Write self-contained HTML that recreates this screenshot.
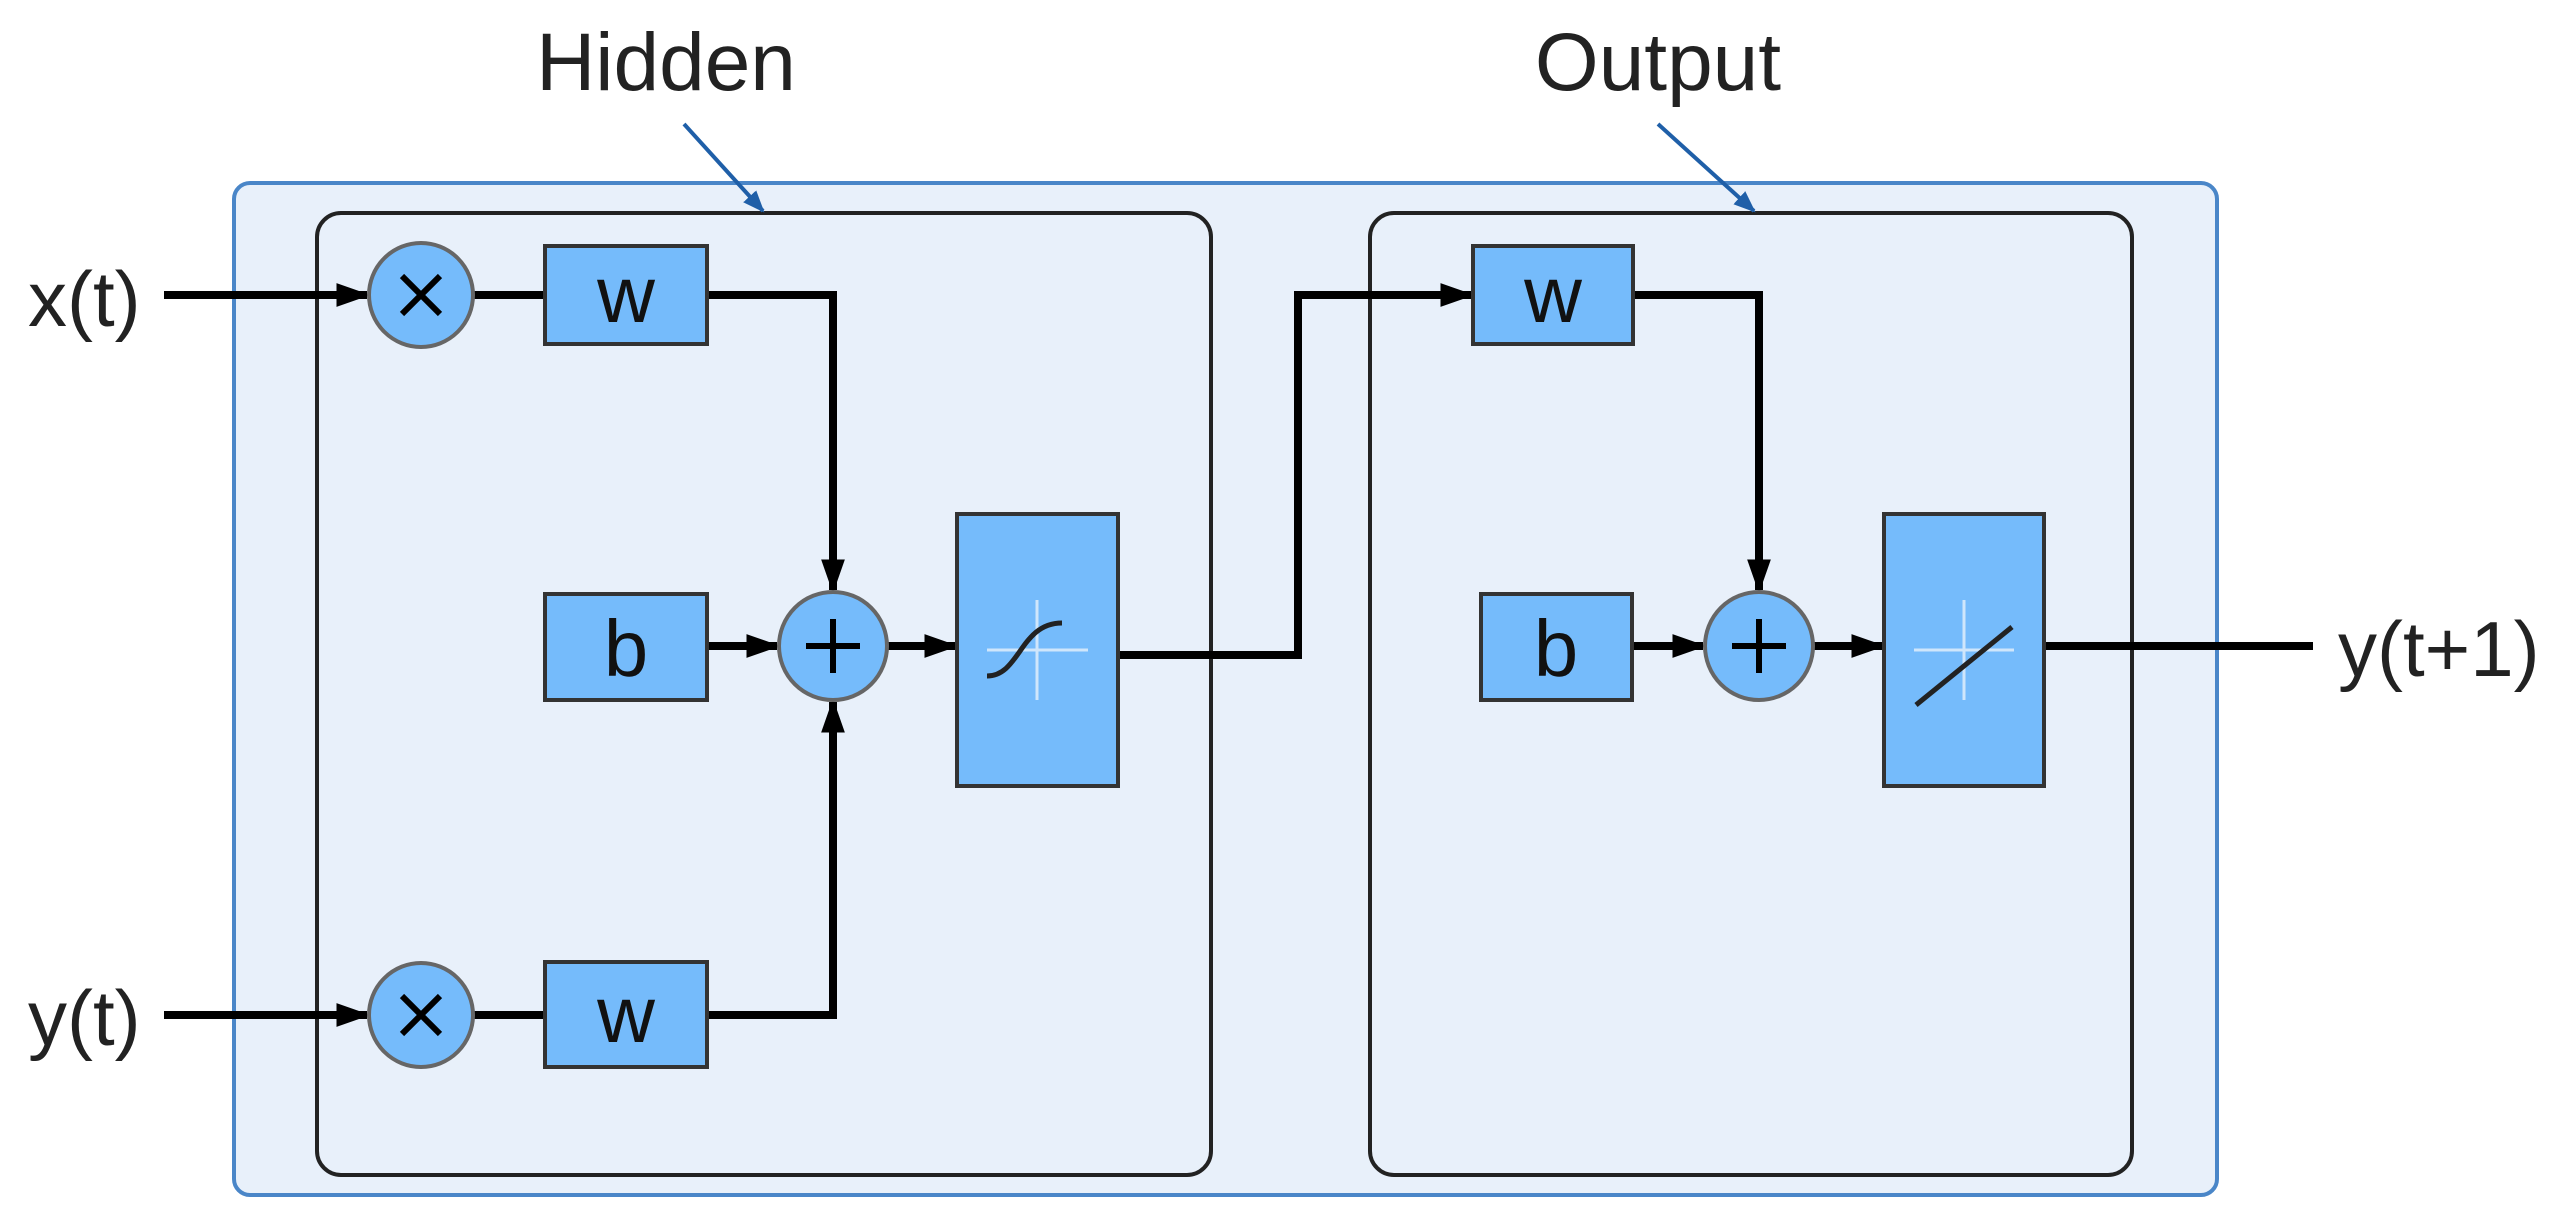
<!DOCTYPE html>
<html><head><style>body{margin:0;background:#fff}</style></head><body>
<svg width="2566" height="1227" viewBox="0 0 2566 1227" xmlns="http://www.w3.org/2000/svg" font-family="Liberation Sans, sans-serif">
<defs>
<marker id="ah" viewBox="0 0 10 10" refX="9" refY="5" markerWidth="34" markerHeight="34" markerUnits="userSpaceOnUse" orient="auto"><path d="M0,1.5L10,5L0,8.5z" fill="#000"/></marker>
<marker id="bh" viewBox="0 0 10 10" refX="9" refY="5" markerWidth="22" markerHeight="22" markerUnits="userSpaceOnUse" orient="auto"><path d="M0,1L10,5L0,9z" fill="#1f5fa8"/></marker></defs>
<rect x="234" y="183" width="1983" height="1012" rx="16" fill="#e8f0fa" stroke="#4a86c8" stroke-width="4"/>
<rect x="317" y="213" width="894" height="962" rx="24" fill="#e8f0fa" stroke="#222" stroke-width="4"/>
<rect x="1370" y="213" width="762" height="962" rx="24" fill="#e8f0fa" stroke="#222" stroke-width="4"/>
<g font-size="82" fill="#222"><text x="666" y="90" text-anchor="middle">Hidden</text><text x="1658" y="90" text-anchor="middle">Output</text></g>
<g stroke="#1f5fa8" stroke-width="4" fill="none"><line x1="684" y1="124" x2="763" y2="211" marker-end="url(#bh)"/><line x1="1658" y1="124" x2="1754" y2="211" marker-end="url(#bh)"/></g>
<g stroke="#000" stroke-width="8" fill="none">
<line x1="164" y1="295" x2="367" y2="295" marker-end="url(#ah)"/>
<line x1="164" y1="1015" x2="367" y2="1015" marker-end="url(#ah)"/>
<line x1="473" y1="295" x2="545" y2="295"/><line x1="473" y1="1015" x2="545" y2="1015"/>
<polyline points="707,295 833,295 833,590" marker-end="url(#ah)"/>
<polyline points="707,1015 833,1015 833,702" marker-end="url(#ah)"/>
<line x1="707" y1="646" x2="777" y2="646" marker-end="url(#ah)"/>
<line x1="887" y1="646" x2="955" y2="646" marker-end="url(#ah)"/>
<polyline points="1118,655 1298,655 1298,295 1471,295" marker-end="url(#ah)"/>
<polyline points="1633,295 1759,295 1759,590" marker-end="url(#ah)"/>
<line x1="1632" y1="646" x2="1703" y2="646" marker-end="url(#ah)"/>
<line x1="1813" y1="646" x2="1882" y2="646" marker-end="url(#ah)"/>
<line x1="2044" y1="646" x2="2313" y2="646"/>
</g>
<g fill="#75bbfb" stroke="#333" stroke-width="4">
<circle cx="421" cy="295" r="52" stroke="#666"/><circle cx="421" cy="1015" r="52" stroke="#666"/><circle cx="833" cy="646" r="54" stroke="#666"/><circle cx="1759" cy="646" r="54" stroke="#666"/>
<rect x="545" y="246" width="162" height="98"/><rect x="545" y="594" width="162" height="106"/><rect x="545" y="962" width="162" height="105"/>
<rect x="957" y="514" width="161" height="272"/>
<rect x="1473" y="246" width="160" height="98"/><rect x="1481" y="594" width="151" height="106"/>
<rect x="1884" y="514" width="160" height="272"/>
</g>
<g stroke="#000" stroke-width="6"><path d="M402,276L440,314M440,276L402,314M402,996L440,1034M440,996L402,1034M806,646H860M833,619V673M1732,646H1786M1759,619V673"/></g>
<g stroke="#cfe6fb" stroke-width="3"><path d="M987,650H1088M1037,600V700M1914,650H2014M1964,600V700"/></g>
<path d="M987,676C1020,676 1020,623 1062,623" stroke="#222" stroke-width="5" fill="none"/>
<line x1="1916" y1="705" x2="2012" y2="627" stroke="#222" stroke-width="5"/>
<g font-size="80" fill="#111" text-anchor="middle"><text x="626" y="322">w</text><text x="626" y="676">b</text><text x="626" y="1042">w</text><text x="1553" y="322">w</text><text x="1556" y="676">b</text></g>
<g font-size="78" fill="#222"><text x="28" y="326">x(t)</text><text x="28" y="1045">y(t)</text><text x="2338" y="676">y(t+1)</text></g>
</svg>
</body></html>
